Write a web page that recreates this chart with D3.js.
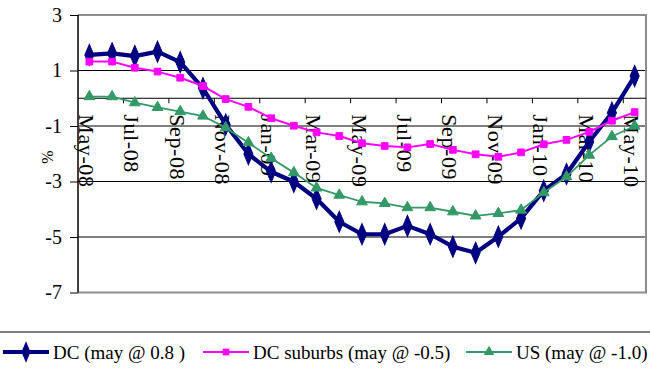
<!DOCTYPE html>
<html>
<head>
<meta charset="utf-8">
<script src="https://cdn.jsdelivr.net/npm/d3@7"></script>
<style>
  html, body { margin: 0; padding: 0; background: #fff; }
  svg { display: block; }
</style>
</head>
<body>
<svg id="chart" width="650" height="371" font-family="Liberation Serif, serif"></svg>
<script>
// Monthly series, May 2008 – May 2010 (%)
const months = [
  "May-08","Jun-08","Jul-08","Aug-08","Sep-08","Oct-08","Nov-08","Dec-08",
  "Jan-09","Feb-09","Mar-09","Apr-09","May-09","Jun-09","Jul-09","Aug-09",
  "Sep-09","Oct-09","Nov-09","Dec-09","Jan-10","Feb-10","Mar-10","Apr-10","May-10"
];
const dcValues = [
  1.56, 1.62, 1.52, 1.68, 1.30, 0.36, -0.95, -2.01, -2.65, -3.01, -3.62, -4.45,
  -4.90, -4.90, -4.60, -4.90, -5.35, -5.57, -4.99, -4.33, -3.33, -2.73, -1.57, -0.52, 0.8
];
const suburbValues = [
  1.32, 1.32, 1.10, 0.96, 0.74, 0.44, -0.03, -0.31, -0.72, -0.99, -1.23, -1.36,
  -1.62, -1.72, -1.77, -1.65, -1.86, -2.02, -2.11, -1.95, -1.66, -1.50, -1.21, -0.81, -0.5
];
const usValues = [
  0.06, 0.06, -0.16, -0.33, -0.48, -0.64, -1.06, -1.60, -2.16, -2.68, -3.23, -3.49,
  -3.73, -3.79, -3.94, -3.94, -4.09, -4.24, -4.15, -4.03, -3.40, -2.83, -2.05, -1.38, -1.0
];
const seriesNames = ["DC (may @ 0.8 )", "DC suburbs (may @ -0.5)", "US (may @ -1.0)"];
const yTicks = [3, 1, -1, -3, -5, -7];
const xTickLabels = ["May-08","Jul-08","Sep-08","Nov-08","Jan-09","Mar-09","May-09",
                     "Jul-09","Sep-09","Nov-09","Jan-10","Mar-10","May-10"];

const FONT = "Liberation Serif, serif";
const svg = d3.select("#chart");
const plot = { left: 78, right: 646, top: 15, bottom: 292.5 };

const x = d3.scaleBand().domain(months).range([plot.left, plot.right]).padding(0);
const y = d3.scaleLinear().domain([-7, 3]).range([plot.bottom, plot.top]);

// y-axis ticks and labels (plain hyphen for negatives)
const yAxis = d3.axisLeft(y).tickValues(yTicks).tickSize(8).tickFormat(d => String(d));
const gy = svg.append("g").attr("transform", `translate(${plot.left},0)`).call(yAxis)
  .attr("font-family", FONT).attr("font-size", 20);
gy.select(".domain").remove();
gy.selectAll(".tick line").attr("stroke", "#000").attr("stroke-width", 1);
gy.selectAll(".tick text").attr("x", -16).attr("fill", "#000");

// horizontal gridlines
svg.append("g").selectAll("line").data(yTicks.filter(v => v !== 3 && v !== -7)).join("line")
  .attr("x1", plot.left).attr("x2", plot.right)
  .attr("y1", d => y(d)).attr("y2", d => y(d))
  .attr("stroke", "#000").attr("stroke-width", 1);

// plot-area border (top, right, bottom) in grey
svg.append("path")
  .attr("d", `M${plot.left},${y(3)}H${plot.right}V${y(-7)}H${plot.left}`)
  .attr("fill", "none").attr("stroke", "#8c8c8c").attr("stroke-width", 2);

// left axis line
svg.append("line")
  .attr("x1", plot.left).attr("x2", plot.left).attr("y1", y(3)).attr("y2", y(-7))
  .attr("stroke", "#000").attr("stroke-width", 1.5);

// category axis crossing at zero
const y0 = y(0);
svg.append("line")
  .attr("x1", plot.left).attr("x2", plot.right).attr("y1", y0).attr("y2", y0)
  .attr("stroke", "#000").attr("stroke-width", 1);

const bw = x.bandwidth();
svg.append("g").selectAll("line").data(d3.range(2, months.length, 2)).join("line")
  .attr("x1", k => plot.left + k * bw).attr("x2", k => plot.left + k * bw)
  .attr("y1", y0).attr("y2", y0 + 5)
  .attr("stroke", "#000").attr("stroke-width", 1);

svg.append("g").selectAll("text").data(xTickLabels).join("text")
  .attr("transform", d => `translate(${x(d) + bw / 2 - 10.5},${y0 + 16}) rotate(90)`)
  .attr("font-size", 22).attr("letter-spacing", 0.6)
  .text(d => d);

// y-axis title
svg.append("text")
  .attr("transform", "translate(53,157) rotate(-90)")
  .attr("text-anchor", "middle").attr("font-size", 16)
  .text("%");

// series
const cx = (d, i) => x(months[i]) + bw / 2;
const series = [
  { name: seriesNames[0], values: dcValues, color: "#000080", width: 4.2, shape: d3.symbolDiamond, size: 100 },
  { name: seriesNames[1], values: suburbValues, color: "#ff00ff", width: 2, shape: d3.symbolSquare, size: 45 },
  { name: seriesNames[2], values: usValues, color: "#339966", width: 1.8, shape: d3.symbolTriangle, size: 50 }
];
const markerTransform = s => s.shape === d3.symbolDiamond ? " scale(0.85,1.15)" : "";

const line = d3.line().x(cx).y(d => y(d));
series.forEach(s => {
  const g = svg.append("g");
  g.append("path").attr("d", line(s.values))
    .attr("fill", "none").attr("stroke", s.color).attr("stroke-width", s.width)
    .attr("stroke-linejoin", "round");
  g.selectAll("path.m").data(s.values).join("path").attr("class", "m")
    .attr("d", d3.symbol().type(s.shape).size(s.size))
    .attr("transform", (d, i) => `translate(${cx(d, i)},${y(d)})${markerTransform(s)}`)
    .attr("fill", s.color).attr("stroke", s.color).attr("stroke-width", 1);
});

// legend
svg.append("line").attr("x1", 0).attr("x2", 650).attr("y1", 332).attr("y2", 332)
  .attr("stroke", "#000").attr("stroke-width", 1);

const legendX = [3, 203, 466];
const ly = 352;
series.forEach((s, i) => {
  const g = svg.append("g").attr("transform", `translate(${legendX[i]},${ly})`);
  g.append("line").attr("x1", 0).attr("x2", 46).attr("y1", 0).attr("y2", 0)
    .attr("stroke", s.color).attr("stroke-width", s.width);
  g.append("path").attr("d", d3.symbol().type(s.shape).size(s.size)())
    .attr("transform", `translate(23,0)${markerTransform(s)}`)
    .attr("fill", s.color);
  g.append("text").attr("x", 50).attr("y", 7).attr("font-size", 19).text(s.name);
});
</script>
</body>
</html>
